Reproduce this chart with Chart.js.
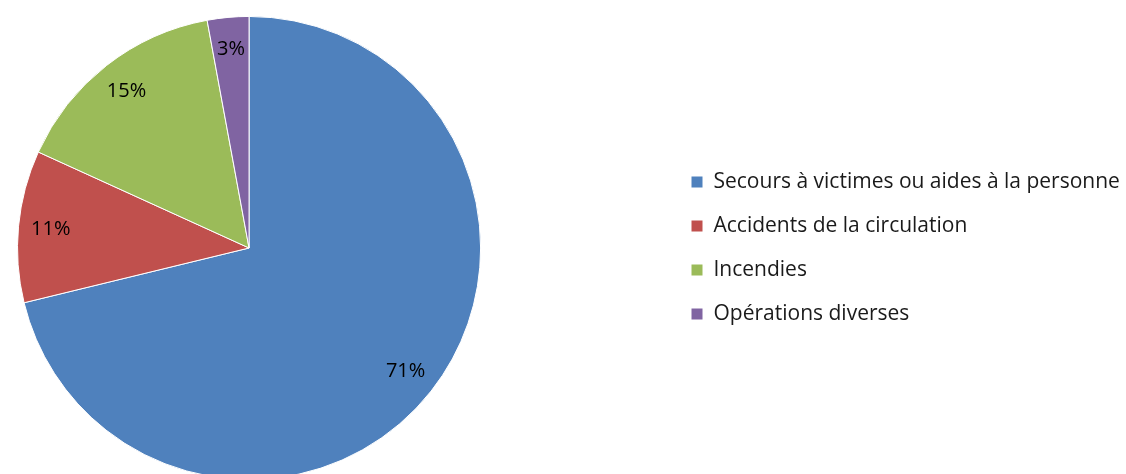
<!DOCTYPE html>
<html>
<head>
<meta charset="utf-8">
<script src="https://cdn.jsdelivr.net/npm/chart.js"></script>
<style>
  html, body { margin: 0; padding: 0; background: #fff; overflow: hidden; }
  #wrap { width: 1126px; height: 474px; overflow: hidden; }
</style>
</head>
<body>
<div id="wrap"><canvas id="pie" width="1126" height="496"></canvas></div>
<script>
// Data
const categories = [
  "Secours à victimes ou aides à la personne",
  "Accidents de la circulation",
  "Incendies",
  "Opérations diverses"
];
const shares = [71.2, 10.6, 15.3, 2.9];
const colors = ["#4F81BD", "#C0504D", "#9BBB59", "#8064A2"];

const FONT = "'Open Sans', sans-serif";
const LEGEND_LEFT = 668;

// Percent labels inside the slices
const sliceLabels = {
  id: "sliceLabels",
  afterDatasetsDraw(chart) {
    const ctx = chart.ctx;
    const data = chart.data.datasets[0].data;
    const total = data.reduce((a, b) => a + b, 0);
    const meta = chart.getDatasetMeta(0);
    ctx.save();
    ctx.font = "20px " + FONT;
    ctx.fillStyle = "#000";
    ctx.textAlign = "center";
    ctx.textBaseline = "middle";
    meta.data.forEach((arc, i) => {
      const p = arc.getProps(["x", "y", "startAngle", "endAngle", "outerRadius"], true);
      const mid = (p.startAngle + p.endAngle) / 2;
      const r = p.outerRadius * 0.86;
      const txt = Math.round((data[i] / total) * 100) + "%";
      ctx.fillText(txt, p.x + Math.cos(mid) * r, p.y + Math.sin(mid) * r);
    });
    ctx.restore();
  }
};

// Push the legend box further right, away from the pie
const legendShift = {
  id: "legendShift",
  afterLayout(chart) {
    const lg = chart.legend;
    const dx = LEGEND_LEFT - lg.left;
    lg.left += dx;
    lg.right += dx;
  }
};

const ctx = document.getElementById("pie").getContext("2d");
new Chart(ctx, {
  type: "pie",
  data: {
    labels: categories,
    datasets: [{
      data: shares,
      backgroundColor: colors,
      borderColor: "#ffffff",
      borderWidth: 1
    }]
  },
  options: {
    responsive: false,
    animation: false,
    layout: { padding: { left: 17, right: 183, top: 15, bottom: 15 } },
    plugins: {
      tooltip: { enabled: false },
      legend: {
        position: "right",
        labels: {
          boxWidth: 12,
          boxHeight: 12,
          padding: 23,
          color: "#1a1a1a",
          font: { family: FONT, size: 21 }
        }
      }
    }
  },
  plugins: [sliceLabels, legendShift]
});
</script>
</body>
</html>
